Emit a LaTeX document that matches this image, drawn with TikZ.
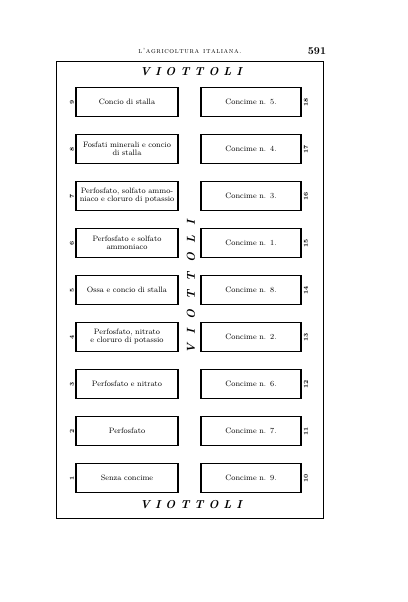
\documentclass[tikz,border=0pt]{standalone}
\begin{document}
\begin{tikzpicture}[x=1pt,y=-1pt,
  plot/.style={draw,line width=1.1pt,minimum height=29pt,inner sep=1pt,align=center,font=\fontsize{7.8}{8}\selectfont},
  lplot/.style={plot,minimum width=102pt,text width=96pt},
  rplot/.style={plot,minimum width=100pt,text width=94pt},
  num/.style={font=\fontsize{6}{6}\selectfont\bfseries,rotate=90,inner sep=0pt},
  title/.style={font=\fontsize{11.5}{12}\selectfont\bfseries\itshape,inner sep=0pt}]
\useasboundingbox (0,0) rectangle (407,602);
\node[font=\fontsize{7.5}{8}\selectfont\scshape,inner sep=0pt] (head) at (190,51) {l\kern.6pt'\kern.6pt a\kern.6pt g\kern.6pt r\kern.6pt i\kern.6pt c\kern.6pt o\kern.6pt l\kern.6pt t\kern.6pt u\kern.6pt r\kern.6pt a\hspace{4pt}i\kern.6pt t\kern.6pt a\kern.6pt l\kern.6pt i\kern.6pt a\kern.6pt n\kern.6pt a\kern.6pt .};
\node[font=\fontsize{10.5}{10}\selectfont\bfseries,inner sep=0pt] (page) at (317,51) {591};
\node[draw,line width=0.9pt,minimum width=267pt,minimum height=457pt,inner sep=0pt] (frame) at (189.5,289.5) {};
\node[title] (top) at (191,72) {V\hspace{5pt}I\hspace{5pt}O\hspace{5pt}T\hspace{5pt}T\hspace{5pt}O\hspace{5pt}L\hspace{5pt}I};
\node[title] (bot) at (191,505) {V\hspace{5pt}I\hspace{5pt}O\hspace{5pt}T\hspace{5pt}T\hspace{5pt}O\hspace{5pt}L\hspace{5pt}I};
\node[title,rotate=90] (mid) at (191,287) {V\hspace{9.5pt}I\hspace{9.5pt}O\hspace{9.5pt}T\hspace{9.5pt}T\hspace{9.5pt}O\hspace{9.5pt}L\hspace{9.5pt}I};
\foreach \i/\ln/\lt/\rn/\rt in {
  0/9/{Concio di stalla}/18/{Concime n. 5.},
  1/8/{Fosfati minerali e concio\\di stalla}/17/{Concime n. 4.},
  2/7/{Perfosfato, solfato ammo-\\niaco e cloruro di potassio}/16/{Concime n. 3.},
  3/6/{Perfosfato e solfato\\ammoniaco}/15/{Concime n. 1.},
  4/5/{Ossa e concio di stalla}/14/{Concime n. 8.},
  5/4/{Perfosfato, nitrato\\e cloruro di potassio}/13/{Concime n. 2.},
  6/3/{Perfosfato e nitrato}/12/{Concime n. 6.},
  7/2/{Perfosfato}/11/{Concime n. 7.},
  8/1/{Senza concime}/10/{Concime n. 9.}}{
  \pgfmathsetmacro{\yy}{102+47*\i}
  \node[lplot] (L\ln) at (127,\yy) {\lt};
  \node[rplot] (R\rn) at (251,\yy) {\rt};
  \node[num] (nl\ln) at (72,\yy) {\ln};
  \node[num] (nr\rn) at (306,\yy) {\rn};
}
\end{tikzpicture}
\end{document}
